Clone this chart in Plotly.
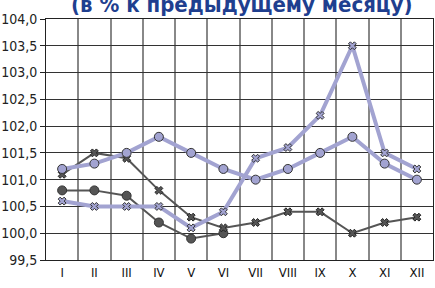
import plotly.graph_objects as go

months = ["I", "II", "III", "IV", "V", "VI", "VII", "VIII", "IX", "X", "XI", "XII"]
purple_circle = [101.2, 101.3, 101.5, 101.8, 101.5, 101.2, 101.0, 101.2, 101.5, 101.8, 101.3, 101.0]
purple_x = [100.6, 100.5, 100.5, 100.5, 100.1, 100.4, 101.4, 101.6, 102.2, 103.5, 101.5, 101.2]
dark_circle = [100.8, 100.8, 100.7, 100.2, 99.9, 100.0]
dark_x = [101.1, 101.5, 101.4, 100.8, 100.3, 100.1, 100.2, 100.4, 100.4, 100.0, 100.2, 100.3]
y_ticks = [99.5, 100.0, 100.5, 101.0, 101.5, 102.0, 102.5, 103.0, 103.5, 104.0]

PURPLE = "#a2a3d1"
DARK = "#555555"
FONT = "DejaVu Sans Condensed, Liberation Sans Narrow, Liberation Sans, Arial"

xs = list(range(len(months)))
fig = go.Figure()
fig.add_trace(go.Scatter(x=xs[:len(dark_circle)], y=dark_circle, mode="lines+markers",
                         line=dict(color=DARK, width=2),
                         marker=dict(symbol="circle", size=9, color=DARK, line=dict(color="#333", width=1))))
fig.add_trace(go.Scatter(x=xs, y=dark_x, mode="lines+markers",
                         line=dict(color=DARK, width=2),
                         marker=dict(symbol="x", size=7, color=DARK, line=dict(color="#222", width=1))))
fig.add_trace(go.Scatter(x=xs, y=purple_circle, mode="lines+markers",
                         line=dict(color=PURPLE, width=4),
                         marker=dict(symbol="circle", size=9, color=PURPLE, line=dict(color="#333", width=1))))
fig.add_trace(go.Scatter(x=xs, y=purple_x, mode="lines+markers",
                         line=dict(color=PURPLE, width=4),
                         marker=dict(symbol="x", size=7, color=PURPLE, line=dict(color="#333", width=1))))

fig.update_layout(
    width=435, height=288,
    margin=dict(l=44, r=1, t=19, b=28),
    paper_bgcolor="white", plot_bgcolor="white",
    showlegend=False,
    separators=",.",
    font=dict(family=FONT, size=13, color="#222"),
    xaxis=dict(range=[-0.5, len(months) - 0.5], tickvals=xs, ticktext=months,
               showgrid=False, ticks="", zeroline=False,
               tickfont=dict(family=FONT, size=13, color="#111"),
               showline=True, linecolor="#222", linewidth=1, mirror=True,
               minor=dict(tickvals=[i - 0.5 for i in range(len(months) + 1)],
                          showgrid=True, gridcolor="#888", gridwidth=1.5, ticks="")),
    yaxis=dict(range=[y_ticks[0], y_ticks[-1]], tickvals=y_ticks, tickformat=".1f",
               showgrid=True, gridcolor="#333", gridwidth=1, zeroline=False,
               ticks="outside", ticklen=5, tickcolor="#222",
               tickfont=dict(family=FONT, size=14, color="#222"),
               showline=True, linecolor="#222", linewidth=1, mirror=True),
)
fig.add_annotation(text="<b>(в % к предыдущему месяцу)</b>", xref="paper", yref="paper",
                   x=0.505, y=1.0, yshift=15, xanchor="center", yanchor="middle", showarrow=False,
                   font=dict(family=FONT, size=22, color="#1f3f8f"))
fig.write_html("out.html", config={"displayModeBar": False},
               post_script="document.body.style.margin='0';document.body.style.padding='0';")
